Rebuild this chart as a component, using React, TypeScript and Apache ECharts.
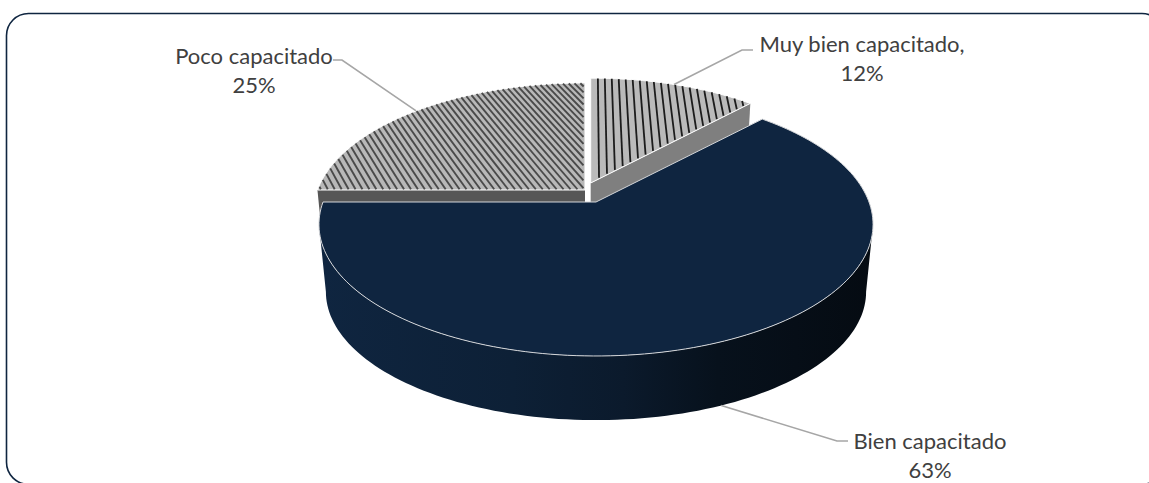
import React, { useEffect, useRef } from "react";
import * as echarts from "echarts";

// Survey shares, listed clockwise from twelve o'clock
const categories = ["Muy bien capacitado", "Bien capacitado", "Poco capacitado"];
const shares = [12, 63, 25];
const nameSuffixes = [",", "", ""];

// Disc projection: points on a unit disc are seen through a simple perspective
const RX = 273;
const RY = 127.8;
const PERSPECTIVE = 0.17;
const DEPTH = 68;
const BASE_SCALE = 0.975;

// Where each exploded slice keeps its apex, and how it is painted
const apexes = [
  { x: 590.7, y: 183, scale: 0.96 },
  { x: 596, y: 202, scale: 1 },
  { x: 585, y: 190, scale: 0.98 },
];
const faces = ["#bababa", "#0f2540", "#b8b8b8"];
const walls = ["#7f7f7f", "#0f2540", "#565656"];
const hatches = [
  { du: 0, dv: 1, gap: 0.031, colour: "#1c1c1c", width: 1.8, phase: 0.03 },
  null,
  { du: 0.38, dv: 0.925, gap: 0.024, colour: "#4a4a4a", width: 1.9, phase: 0 },
];
const labelBoxes = [
  { x: 862, y: 58, elbowX: 742, elbowY: 50, endX: 753 },
  { x: 930, y: 455, elbowX: 837, elbowY: 441, endX: 848 },
  { x: 254, y: 70, elbowX: 342, elbowY: 60, endX: 333 },
];

const FONT = "Lato, sans-serif";

type Apex = { x: number; y: number; scale: number };

const unit = (deg: number) => {
  const r = (deg * Math.PI) / 180;
  return [Math.sin(r), -Math.cos(r)];
};

const project = (u: number, v: number, a: Apex, lower = false) => {
  const w = 1 - PERSPECTIVE * v;
  const s = a.scale * (lower ? BASE_SCALE : 1);
  return [a.x + (s * RX * u) / w, a.y + (lower ? DEPTH : 0) + (s * RY * v) / w];
};

const arc = (from: number, to: number, a: Apex, lower = false) => {
  const pts: number[][] = [];
  const steps = Math.max(2, Math.ceil(Math.abs(to - from) / 1.5));
  for (let i = 0; i <= steps; i++) {
    const [u, v] = unit(from + ((to - from) * i) / steps);
    pts.push(project(u, v, a, lower));
  }
  return pts;
};

// Clips an infinite hatch line to a sector no wider than a half turn
const clipToSector = (
  px: number,
  py: number,
  dx: number,
  dy: number,
  from: number,
  to: number
): [number, number] | null => {
  const b = px * dx + py * dy;
  const c = px * px + py * py - 0.994;
  const disc = b * b - c;
  if (disc <= 0) return null;
  let t0 = -b - Math.sqrt(disc);
  let t1 = -b + Math.sqrt(disc);
  const a0 = (from * Math.PI) / 180;
  const a1 = (to * Math.PI) / 180;
  const planes = [
    [Math.cos(a0), Math.sin(a0)],
    [-Math.cos(a1), -Math.sin(a1)],
  ];
  for (const [nx, ny] of planes) {
    const dist = nx * px + ny * py - 0.006;
    const rate = nx * dx + ny * dy;
    if (Math.abs(rate) < 1e-9) {
      if (dist < 0) return null;
    } else if (rate > 0) {
      t0 = Math.max(t0, -dist / rate);
    } else {
      t1 = Math.min(t1, -dist / rate);
    }
  }
  return t1 > t0 ? [t0, t1] : null;
};

const renderSlice = (params: any, api: any) => {
  const i = params.dataIndex;
  const total = shares.reduce((s, x) => s + x, 0);
  const value = api.value(0);
  const before = shares.slice(0, i).reduce((s, x) => s + x, 0);
  const from = (before / total) * 360;
  const to = from + (value / total) * 360;
  const mid = (from + to) / 2;
  const apex = apexes[i];
  const isFront = to - from > 180;
  const layer = isFront ? 40 : 10;
  const children: any[] = [];

  if (isFront) {
    // The rim runs between the two points where the disc is widest
    const left = (Math.acos(-PERSPECTIVE) * 180) / Math.PI;
    const sideA = left;
    const sideB = 360 - left;
    children.push({
      type: "polygon",
      z2: layer,
      shape: { points: [...arc(sideA, sideB, apex), ...arc(sideB, sideA, apex, true)] },
      style: {
        fill: new echarts.graphic.LinearGradient(0, 0, 1, 0, [
          { offset: 0, color: "#0f2540" },
          { offset: 0.35, color: "#0d2036" },
          { offset: 0.55, color: "#0b1a2c" },
          { offset: 0.72, color: "#07111c" },
          { offset: 1, color: "#050b12" },
        ]),
      },
    });
  } else {
    // Flat cut faces of the two back slices; the big slice hides their lower part
    const cutAngle = i === 0 ? to : from;
    const [u, v] = unit(cutAngle);
    children.push({
      type: "polygon",
      z2: layer,
      shape: {
        points: [
          project(0, 0, apex),
          project(u, v, apex),
          project(u, v, apex, true),
          project(0, 0, apex, true),
        ],
      },
      style: { fill: walls[i] },
    });
  }

  children.push({
    type: "polygon",
    z2: layer + 5,
    shape: { points: [project(0, 0, apex), ...arc(from, to, apex)] },
    style: {
      fill: faces[i],
      stroke: isFront ? "#d4d6d9" : "#ffffff",
      lineWidth: 1,
      lineJoin: "round",
    },
  });

  const hatch = hatches[i];
  if (hatch) {
    for (let n = -60; n <= 60; n++) {
      const offset = hatch.phase + n * hatch.gap;
      const px = -hatch.dv * offset;
      const py = hatch.du * offset;
      const span = clipToSector(px, py, hatch.du, hatch.dv, from, to);
      if (!span) continue;
      const p0 = project(px + span[0] * hatch.du, py + span[0] * hatch.dv, apex);
      const p1 = project(px + span[1] * hatch.du, py + span[1] * hatch.dv, apex);
      children.push({
        type: "line",
        z2: layer + 6,
        shape: { x1: p0[0], y1: p0[1], x2: p1[0], y2: p1[1] },
        style: { stroke: hatch.colour, lineWidth: hatch.width },
      });
    }
  }

  // Leader from the slice's middle to its label
  const [mu, mv] = unit(mid);
  const anchor = project(mu, mv, apex, isFront);
  const box = labelBoxes[i];
  children.push({
    type: "polyline",
    z2: 60,
    shape: {
      points: [anchor, [box.elbowX, box.elbowY], [box.endX, box.elbowY]],
    },
    style: { stroke: "#a6a6a6", lineWidth: 1.6, fill: "none" },
  });
  children.push({
    type: "text",
    z2: 61,
    style: {
      x: box.x,
      y: box.y,
      text: `${categories[i]}${nameSuffixes[i]}\n${value}%`,
      fill: "#404040",
      fontFamily: FONT,
      fontSize: 22,
      lineHeight: 29,
      align: "center",
      verticalAlign: "middle",
    },
  });

  return { type: "group", children };
};

export default function App() {
  const ref = useRef<HTMLDivElement>(null);

  useEffect(() => {
    const chart = echarts.init(ref.current!, undefined, { renderer: "svg" });
    chart.setOption({
      animation: false,
      backgroundColor: "#ffffff",
      graphic: [
        {
          type: "rect",
          z: -1,
          silent: true,
          shape: { x: 6.5, y: 13.5, width: 1157.5, height: 470.8, r: 22 },
          style: { fill: "none", stroke: "#0f2540", lineWidth: 1.6 },
        },
      ],
      series: [
        {
          type: "custom",
          coordinateSystem: "none",
          silent: true,
          clip: false,
          renderItem: renderSlice,
          data: shares.map((s, i) => ({ name: categories[i], value: [s] })),
        },
      ],
    });
    return () => chart.dispose();
  }, []);

  return (
    <div
      ref={ref}
      style={{ position: "fixed", left: 0, top: 0, width: 1149, height: 483 }}
    />
  );
}
